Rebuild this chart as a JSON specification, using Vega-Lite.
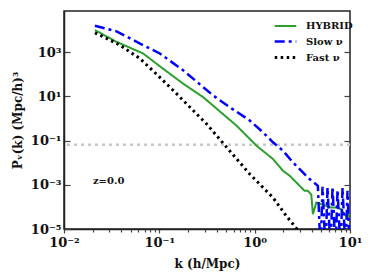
{
  "$schema": "https://vega.github.io/schema/vega-lite/v6.json",
  "width": 286,
  "height": 218,
  "autosize": {"type": "none"},
  "padding": {"left": 64, "top": 11, "right": 24, "bottom": 51},
  "background": "white",
  "config": {
    "view": {"stroke": "#222", "strokeWidth": 1.5},
    "font": "DejaVu Serif",
    "axis": {
      "grid": false,
      "domainColor": "#222",
      "domainWidth": 1.5,
      "tickColor": "#444",
      "tickWidth": 1.2,
      "labelFont": "DejaVu Serif",
      "labelFontWeight": "bold",
      "labelFontSize": 13,
      "labelColor": "#111",
      "labelFlush": false,
      "titleFont": "DejaVu Serif",
      "titleFontWeight": "bold",
      "titleFontSize": 12,
      "titleColor": "#111"
    },
    "legend": {
      "labelFont": "DejaVu Serif",
      "labelFontWeight": "bold",
      "labelFontSize": 10,
      "labelColor": "#111"
    }
  },
  "layer": [
    {
      "data": {"values": [{"P": 0.065}]},
      "mark": {"type": "rule", "color": "#c8c8c8", "strokeWidth": 2.5, "strokeDash": [3, 4]},
      "encoding": {
        "y": {
          "field": "P",
          "type": "quantitative",
          "scale": {"type": "log", "domain": [0.00001, 73000]},
          "axis": {
            "orient": "right",
            "values": [0.00001, 0.001, 0.1, 10, 1000],
            "labels": false,
            "domain": false,
            "tickSize": -6,
            "title": null
          }
        }
      }
    },
    {
      "data": {
        "values": [
          {"series": "HYBRID", "k": 0.0211, "P": 10000},
          {"series": "HYBRID", "k": 0.0356, "P": 2938},
          {"series": "HYBRID", "k": 0.0676, "P": 873},
          {"series": "HYBRID", "k": 0.1012, "P": 231},
          {"series": "HYBRID", "k": 0.1775, "P": 37.8},
          {"series": "HYBRID", "k": 0.2877, "P": 9.29},
          {"series": "HYBRID", "k": 0.643, "P": 0.481},
          {"series": "HYBRID", "k": 1.042, "P": 0.0593},
          {"series": "HYBRID", "k": 1.555, "P": 0.01472},
          {"series": "HYBRID", "k": 1.978, "P": 0.00433},
          {"series": "HYBRID", "k": 2.33, "P": 0.002565},
          {"series": "HYBRID", "k": 2.735, "P": 0.001273},
          {"series": "HYBRID", "k": 3.085, "P": 0.000754},
          {"series": "HYBRID", "k": 3.34, "P": 0.000533},
          {"series": "HYBRID", "k": 3.62, "P": 0.000533},
          {"series": "HYBRID", "k": 3.93, "P": 0.000351},
          {"series": "HYBRID", "k": 4.08, "P": 0.0000466},
          {"series": "HYBRID", "k": 4.43, "P": 0.0001567},
          {"series": "HYBRID", "k": 4.99, "P": 0.0001327},
          {"series": "HYBRID", "k": 5.63, "P": 0.000111},
          {"series": "HYBRID", "k": 6.36, "P": 0.0000929},
          {"series": "HYBRID", "k": 7.45, "P": 0.0000929},
          {"series": "HYBRID", "k": 8.09, "P": 0.0000785},
          {"series": "HYBRID", "k": 8.75, "P": 0.0000466},
          {"series": "HYBRID", "k": 9.48, "P": 0.0000327},
          {"series": "HYBRID", "k": 9.89, "P": 0.0000537},
          {"series": "Slow ν", "k": 0.0211, "P": 15670},
          {"series": "Slow ν", "k": 0.0356, "P": 8730},
          {"series": "Slow ν", "k": 0.0676, "P": 2080},
          {"series": "Slow ν", "k": 0.1012, "P": 873},
          {"series": "Slow ν", "k": 0.1775, "P": 152},
          {"series": "Slow ν", "k": 0.3656, "P": 11.1},
          {"series": "Slow ν", "k": 0.547, "P": 3.27},
          {"series": "Slow ν", "k": 0.887, "P": 0.811},
          {"series": "Slow ν", "k": 1.222, "P": 0.238},
          {"series": "Slow ν", "k": 1.555, "P": 0.0837},
          {"series": "Slow ν", "k": 1.978, "P": 0.0351},
          {"series": "Slow ν", "k": 2.518, "P": 0.01032},
          {"series": "Slow ν", "k": 3.206, "P": 0.00362},
          {"series": "Slow ν", "k": 3.767, "P": 0.001815},
          {"series": "Slow ν", "k": 4.6, "P": 0.000901},
          {"series": "Slow ν", "k": 4.91, "P": 0.000001},
          {"series": "Slow ν", "k": 5.15, "P": 0.000813},
          {"series": "Slow ν", "k": 5.54, "P": 0.000001},
          {"series": "Slow ν", "k": 5.81, "P": 0.000731},
          {"series": "Slow ν", "k": 6.25, "P": 0.000001},
          {"series": "Slow ν", "k": 6.56, "P": 0.000813},
          {"series": "Slow ν", "k": 7.05, "P": 0.000001},
          {"series": "Slow ν", "k": 7.4, "P": 0.000593},
          {"series": "Slow ν", "k": 7.96, "P": 0.000001},
          {"series": "Slow ν", "k": 8.35, "P": 0.000731},
          {"series": "Slow ν", "k": 8.97, "P": 0.000001},
          {"series": "Slow ν", "k": 9.42, "P": 0.000533},
          {"series": "Slow ν", "k": 9.89, "P": 0.000001},
          {"series": "Fast ν", "k": 0.0211, "P": 7540},
          {"series": "Fast ν", "k": 0.028, "P": 4200},
          {"series": "Fast ν", "k": 0.0386, "P": 2080},
          {"series": "Fast ν", "k": 0.0625, "P": 518},
          {"series": "Fast ν", "k": 0.1012, "P": 73.1},
          {"series": "Fast ν", "k": 0.1514, "P": 13.3},
          {"series": "Fast ν", "k": 0.312, "P": 0.574},
          {"series": "Fast ν", "k": 0.887, "P": 0.00306},
          {"series": "Fast ν", "k": 1.555, "P": 0.000265},
          {"series": "Fast ν", "k": 2.148, "P": 0.000039},
          {"series": "Fast ν", "k": 2.735, "P": 0.0000108},
          {"series": "Fast ν", "k": 3.34, "P": 0.00000285}
        ]
      },
      "mark": {"type": "line", "clip": true, "strokeCap": "butt"},
      "encoding": {
        "x": {
          "field": "k",
          "type": "quantitative",
          "scale": {"type": "log", "domain": [0.01, 10]},
          "axis": {
            "orient": "bottom",
            "values": [0.01, 0.1, 1, 10],
            "labelExpr": "datum.value < 0.05 ? '10⁻²' : datum.value < 0.5 ? '10⁻¹' : datum.value < 5 ? '10⁰' : '10¹'",
            "tickSize": 4,
            "labelPadding": 3,
            "title": "k (h/Mpc)",
            "titlePadding": 9
          }
        },
        "y": {
          "field": "P",
          "type": "quantitative",
          "scale": {"type": "log", "domain": [0.00001, 73000]},
          "axis": {
            "orient": "left",
            "values": [0.00001, 0.001, 0.1, 10, 1000],
            "labelExpr": "datum.value < 0.00005 ? '10⁻⁵' : datum.value < 0.005 ? '10⁻³' : datum.value < 0.5 ? '10⁻¹' : datum.value < 50 ? '10¹' : '10³'",
            "tickSize": -6,
            "labelPadding": 9,
            "title": "Pᵥ(k) (Mpc/h)³",
            "titlePadding": 6
          }
        },
        "color": {
          "field": "series",
          "type": "nominal",
          "scale": {"domain": ["HYBRID", "Slow ν", "Fast ν"], "range": ["#2ca02c", "#0000ff", "#000000"]},
          "legend": {
            "orient": "none",
            "legendX": 214,
            "legendY": 8,
            "title": null,
            "symbolType": "M-1.8,0H1.8",
            "symbolSize": 144,
            "symbolStrokeWidth": 2.5,
            "rowPadding": 3,
            "labelOffset": 13,
            "padding": 0
          }
        },
        "strokeDash": {
          "field": "series",
          "type": "nominal",
          "scale": {"domain": ["HYBRID", "Slow ν", "Fast ν"], "range": [[1, 0], [10, 4, 3, 4], [2.5, 3.5]]},
          "legend": {
            "orient": "none",
            "legendX": 214,
            "legendY": 8,
            "title": null,
            "symbolType": "M-1.8,0H1.8",
            "symbolSize": 144,
            "symbolStrokeWidth": 2.5,
            "rowPadding": 3,
            "labelOffset": 13,
            "padding": 0
          }
        },
        "strokeWidth": {
          "field": "series",
          "type": "nominal",
          "scale": {"domain": ["HYBRID", "Slow ν", "Fast ν"], "range": [2, 3, 2.5]},
          "legend": null
        }
      }
    },
    {
      "data": {"values": [{"k": 0.0201, "P": 0.0015, "label": "z=0.0"}]},
      "mark": {"type": "text", "align": "left", "baseline": "middle", "font": "DejaVu Serif", "fontWeight": "bold", "fontSize": 10, "color": "#111"},
      "encoding": {
        "x": {
          "field": "k",
          "type": "quantitative",
          "scale": {"type": "log", "domain": [0.01, 10]},
          "axis": {
            "orient": "bottom",
            "values": [0.02, 0.03, 0.04, 0.05, 0.06, 0.07, 0.08, 0.09, 0.2, 0.3, 0.4, 0.5, 0.6, 0.7, 0.8, 0.9, 2, 3, 4, 5, 6, 7, 8, 9],
            "labels": false,
            "domain": false,
            "tickSize": 3,
            "title": null
          }
        },
        "y": {
          "field": "P",
          "type": "quantitative",
          "scale": {"type": "log", "domain": [0.00001, 73000]},
          "axis": null
        },
        "text": {"field": "label", "type": "nominal"}
      }
    }
  ],
  "resolve": {"axis": {"x": "independent", "y": "independent"}}
}
